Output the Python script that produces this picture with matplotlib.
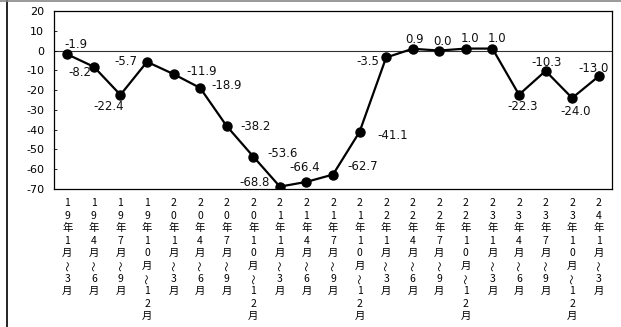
import matplotlib
matplotlib.use("Agg")
import matplotlib.pyplot as plt
from matplotlib.lines import Line2D

# ---- data ----
periods = ["19年1月~3月", "19年4月~6月", "19年7月~9月", "19年10月~12月",
           "20年1月~3月", "20年4月~6月", "20年7月~9月", "20年10月~12月",
           "21年1月~3月", "21年4月~6月", "21年7月~9月", "21年10月~12月",
           "22年1月~3月", "22年4月~6月", "22年7月~9月", "22年10月~12月",
           "23年1月~3月", "23年4月~6月", "23年7月~9月", "23年10月~12月",
           "24年1月~3月"]
values = [-1.9, -8.2, -22.4, -5.7, -11.9, -18.9, -38.2, -53.6, -68.8, -66.4,
          -62.7, -41.1, -3.5, 0.9, 0.0, 1.0, 1.0, -22.3, -10.3, -24.0, -13.0]
yticks = [20, 10, 0, -10, -20, -30, -40, -50, -60, -70]

# label offsets in pixels (dx, dy) relative to each point
label_offsets = [(9, 10), (-14, -6), (-12, -12), (-21, 0), (28, 3), (26, 2),
                 (29, 0), (29, 3), (-25, 4), (-2, 14), (30, 8), (33, -4),
                 (-18, -4), (2, 9), (3, 9), (4, 10), (5, 10), (4, -12),
                 (1, 8), (3, -13), (-5, 8)]

fig = plt.figure(figsize=(6.21, 3.27), dpi=100)
ax = fig.add_axes([54 / 621, 1 - 189 / 327, (612 - 54) / 621, (189 - 11) / 327])

x = list(range(len(values)))
ax.plot(x, values, color="black", lw=1.6, marker="o", markersize=6.5,
        markerfacecolor="black", markeredgecolor="black", zorder=3)
ax.axhline(0, color="#333333", lw=0.8, zorder=1)

for xi, v, (dx, dy) in zip(x, values, label_offsets):
    ax.annotate(f"{v:.1f}", (xi, v), xytext=(dx, dy), textcoords="offset pixels",
                ha="center", va="center", fontsize=8.5, family="DejaVu Sans",
                color="#111111")

ax.set_xlim(-0.5, len(values) - 0.5)
ax.set_ylim(-70, 20)
ax.set_yticks(yticks)
ax.set_yticklabels([str(t) for t in yticks], fontsize=8, family="DejaVu Sans")
ax.tick_params(axis="y", length=2, direction="in", pad=7, width=0.6)

# vertical (tategaki) category labels, one character per row
ax.set_xticks(x)
ax.set_xticklabels([])
ax.tick_params(axis="x", length=0)
first_row = 14.0   # px below axes bottom
pitch = 12.6       # px per character row
for xi, label in zip(x, periods):
    for k, ch in enumerate(label):
        if ch == "~":
            ax.annotate("〜", (xi, 0), xycoords=("data", "axes fraction"),
                        xytext=(0, -(first_row + k * pitch)), textcoords="offset pixels",
                        ha="center", va="center", rotation=90, fontsize=7.5,
                        family="Noto Sans CJK JP", annotation_clip=False)
        else:
            ax.annotate(ch, (xi, 0), xycoords=("data", "axes fraction"),
                        xytext=(0, -(first_row + k * pitch)), textcoords="offset pixels",
                        ha="center", va="center", fontsize=7.5,
                        family="Noto Sans CJK JP", annotation_clip=False)

for s in ax.spines.values():
    s.set_linewidth(0.9)
    s.set_color("black")

# outer frame (left and top edges visible in reference)
fig.add_artist(Line2D([7 / 621, 7 / 621], [0, 1], transform=fig.transFigure,
                      color="black", lw=1.2))
fig.add_artist(Line2D([0, 1], [1 - 0.8 / 327, 1 - 0.8 / 327], transform=fig.transFigure,
                      color="#888888", lw=1.2))

fig.savefig("out.png", dpi=100)
